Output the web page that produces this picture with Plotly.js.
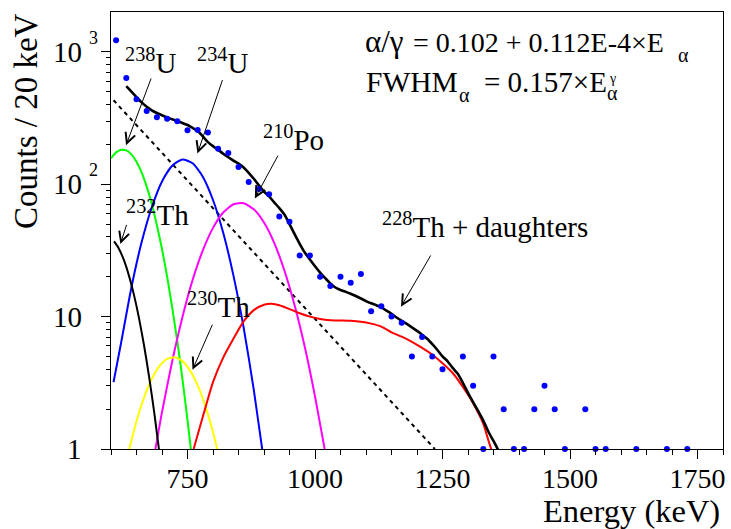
<!DOCTYPE html>
<html><head><meta charset="utf-8">
<script src="https://cdn.plot.ly/plotly-3.0.1.min.js"></script>
<style>body{margin:0;background:#fff}#chart{width:731px;height:529px}</style>
</head><body><div id="chart"></div>
<script>
// ---- measured data (Energy in keV, counts per 20 keV) ----
const dataE = [610,630,650,670,690,710,730,750,770,790,810,830,850,870,890,910,930,950,970,990,1010,1030,1050,1070,1090,1110,1130,1150,1170,1190,1210,1230,1250,1290,1310,1330,1350,1370,1390,1410,1430,1450,1470,1490,1530,1550,1570,1630,1690,1730];
const dataCounts = [1222,634,438,358,321,313,299,256,257,246,185,172,135,104,92,84,57,52,29,29,20,17,20,18,21,11,12,10,9,5,7,5,4,5,3,1,5,2,1,1,2,3,2,1,2,1,1,1,1,1];

// ---- fit components ----
const u238E = [600,610,620,630,640,650,660,670,680,690,700,710,720,730,740,750,760];
const u238C = [157,174,182,180,168,148,123,96,71,49,32.4,20.1,11.7,6.5,3.4,1.65,0.77];

const u234E = [605,620,640,660,680,700,720,740,760,780,800,820,840,860,880,900];
const u234C = [3.2,6.4,16.6,36.4,67,105,138,154,144,114,76,43,20.5,8.3,2.8,0.8];

const po210E = [685,700,720,740,760,780,800,820,840,860,880,900,920,940,960,980,1000,1020];
const po210C = [0.9,1.9,4.6,9.9,18.9,31.6,46.8,61.2,70.6,71.9,64.7,51.4,36.1,22.3,12.2,5.9,2.5,0.95];

const th230E = [635,650,665,680,695,710,725,740,755,770,785,800,810];
const th230C = [0.97,1.63,2.46,3.39,4.23,4.79,4.94,4.61,3.91,3.02,2.11,1.34,0.94];

const th232E = [606,615,625,635,645,655,665,675,685,695];
const th232C = [37,32.9,26.9,20.5,14.6,9.7,6.0,3.45,1.86,0.93];

const th228E = [762,780,800,820,840,860,880,900,915,930,950,970,990,1010,1030,1050,1070,1090,1110,1130,1150,1170,1190,1210,1230,1250,1270,1290,1310,1330,1340,1350];
const th228C = [1.0,1.75,3.2,4.9,6.8,9.2,11.2,12.3,12.5,12.2,11.4,10.6,10.0,9.6,9.4,9.35,9.3,9.15,8.85,8.4,7.6,7.05,6.45,5.8,5.15,4.45,3.75,2.94,2.22,1.55,1.16,0.88];

const totalE = [630,640,650,660,670,680,690,700,710,720,730,740,750,760,770,780,790,800,810,820,830,840,850,860,870,880,890,900,910,920,930,940,950,960,970,980,990,1000,1010,1020,1030,1040,1050,1060,1070,1080,1090,1100,1110,1120,1130,1140,1150,1160,1170,1180,1190,1200,1210,1220,1230,1240,1250,1260,1270,1280,1290,1300,1310,1320,1330,1340,1350,1360];
const totalC = [550,500,455,415,385,362,345,332,320,310,300,290,280,266,252,230,208,194,182,170,160,151,143,134,122,110,98,88,81,73,66,59,50,42,35.5,30.5,27,24,21.5,19.5,17.8,16.6,15.9,15.4,14.9,14.3,13.7,13.1,12.6,12.2,11.75,11.1,10.5,9.85,9.3,8.8,8.3,7.8,7.3,6.8,6.2,5.6,5.0,4.6,4.1,3.7,3.16,2.65,2.26,1.93,1.64,1.35,1.15,0.97];

const bkgE = [605,1235];
const bkgC = [431,1];

// ---- axis tick labels ----
const xTickVals = [750,1000,1250,1500,1750];
const xTickText = ['750','1000','1250','1500','1750'];
const yTickVals = [1,10,100,1000];
const yTickBase = ['1','10','10','10'];
const yTickExp  = ['','','2','3'];
const yMinorVals = [2,3,4,5,6,7,8,9,20,30,40,50,60,70,80,90,200,300,400,500,600,700,800,900];

// ---- labels ----
const FONT = "Liberation Serif";
const PX = px => (px-111)/612;
const PY = py => (449-py)/437;

function line(x,y,color,width){
  return {type:'scatter',mode:'lines',x:x,y:y,line:{color:color,width:width,shape:'spline',smoothing:0.6},hoverinfo:'skip',showlegend:false};
}
const traces = [
  {type:'scatter',mode:'lines',x:bkgE,y:bkgC,line:{color:'#000',width:2,dash:'4px,4px'},showlegend:false},
  line(u238E,u238C,'#00ff00',2),
  line(u234E,u234C,'#0000ff',2),
  line(po210E,po210C,'#ff00ff',2),
  line(th230E,th230C,'#ffff00',2),
  line(th232E,th232C,'#000000',2),
  line(th228E,th228C,'#ff0000',2),
  line(totalE,totalC,'#000000',2.6),
  {type:'scatter',mode:'markers',x:dataE,y:dataCounts,marker:{color:'#0000ff',size:6},cliponaxis:false,showlegend:false}
];

function txt(pxLeft,pyBase,text,size,extra){
  return Object.assign({xref:'paper',yref:'paper',x:PX(pxLeft),y:PY(pyBase+0.216*size),xanchor:'left',yanchor:'bottom',
    text:text,showarrow:false,font:{family:FONT,size:size,color:'#000'},borderpad:0,borderwidth:0},extra||{});
}
function arrow(hx,hy,tx,ty){
  return {xref:'x',yref:'y',axref:'x',ayref:'y',x:hx,y:Math.log10(hy),ax:tx,ay:Math.log10(ty),text:'',showarrow:true,
    arrowhead:5,arrowsize:2,arrowwidth:1,arrowcolor:'#000'};
}
const ann = [
  txt(125,72.5,'<sup>238</sup>U',29),
  txt(196.7,72.5,'<sup>234</sup>U',29),
  txt(263,150,'<sup>210</sup>Po',29),
  txt(126,225,'<sup>232</sup>Th',29),
  txt(187,316.7,'<sup>230</sup>Th',29),
  txt(381.7,236.7,'<sup>228</sup>Th + daughters',29),
  // formula line 1
  txt(365,52,'α/γ',31),
  txt(413,52,'= 0.102 + 0.112E-4×E',28),
  txt(678,62,'α',20),
  // formula line 2
  txt(366,92,'FWHM',29.5),
  txt(459,102,'α',20),
  txt(484,92,'= 0.157×E',29),
  txt(607,100,'α',20),
  txt(609,83,'γ',14),
  arrow(629.5,10**2.295,679.7,10**2.810),
  arrow(769.5,10**2.232,819.5,10**2.798),
  arrow(882,10**1.893,928.9,10**2.227),
  arrow(618.4,10**1.548,631.4,10**1.704),
  arrow(759.8,10**0.598,800,10**0.950),
  arrow(1168.6,10**1.075,1228.5,10**1.473),
  {xref:'paper',yref:'paper',x:PX(720),y:PY(529),xanchor:'right',yanchor:'bottom',text:'Energy (keV)',showarrow:false,font:{family:FONT,size:32.5,color:'#000'},borderpad:0,borderwidth:0},
  {xref:'paper',yref:'paper',x:PX(26),y:PY(13),xanchor:'center',yanchor:'top',textangle:-90,text:'Counts / 20 keV',showarrow:false,font:{family:FONT,size:33,color:'#000'},borderpad:0,borderwidth:0}
];
yTickVals.forEach((v,i)=>{
  ann.push({xref:'paper',yref:'y',x:PX(82),y:Math.log10(v),xanchor:'right',yanchor:'middle',text:yTickBase[i],showarrow:false,font:{family:FONT,size:29,color:'#000'},borderpad:0,borderwidth:0});
  if(yTickExp[i]) ann.push({xref:'paper',yref:'y',x:PX(89),y:Math.log10(v),yshift:4,xanchor:'left',yanchor:'bottom',text:yTickExp[i],showarrow:false,font:{family:FONT,size:18,color:'#000'},borderpad:0,borderwidth:0});
});

const layout = {
  width:731,height:529,margin:{l:111,r:8,t:12,b:80},
  paper_bgcolor:'#fff',plot_bgcolor:'#fff',showlegend:false,
  font:{family:FONT,color:'#000'},
  xaxis:{range:[600,1800],showline:true,linecolor:'#000',linewidth:1,mirror:true,showgrid:false,zeroline:false,
    ticks:'outside',ticklen:9,tickwidth:1,tickcolor:'#000',tickmode:'array',tickvals:xTickVals,ticktext:xTickText,
    tickfont:{family:FONT,size:28,color:'#000'},ticklabelstandoff:-5,
    minor:{ticks:'outside',ticklen:4.5,tickwidth:1,tickcolor:'#000',dtick:50,tick0:0,showgrid:false}},
  yaxis:{type:'log',range:[0,Math.log10(2000)],showline:true,linecolor:'#000',linewidth:1,mirror:true,showgrid:false,zeroline:false,
    ticks:'outside',ticklen:9,tickwidth:1,tickcolor:'#000',tickmode:'array',tickvals:yTickVals,showticklabels:false,
    minor:{ticks:'outside',ticklen:4.5,tickwidth:1,tickcolor:'#000',tickmode:'array',tickvals:yMinorVals,showgrid:false}},
  annotations:ann
};
Plotly.newPlot('chart',traces,layout,{staticPlot:true,displayModeBar:false});
</script>
</body></html>
